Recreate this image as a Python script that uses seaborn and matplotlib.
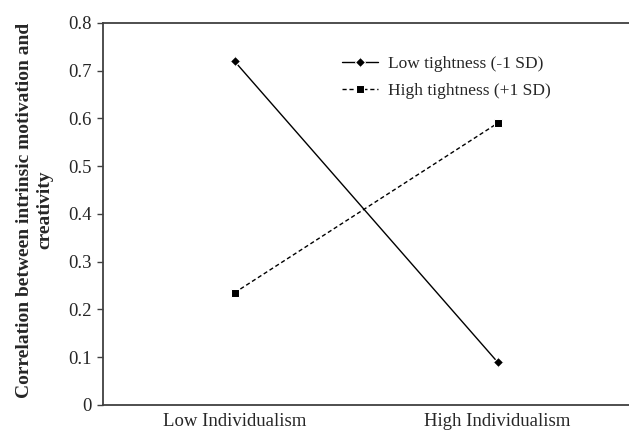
import numpy as np
import pandas as pd
import matplotlib
matplotlib.use("Agg")
import matplotlib.pyplot as plt
import seaborn as sns

# ===== data =====
categories = ["Low Individualism", "High Individualism"]
low_tightness = [0.72, 0.09]
high_tightness = [0.235, 0.59]
series_names = ["Low tightness (-1 SD)", "High tightness (+1 SD)"]
y_ticks = [0, 0.1, 0.2, 0.3, 0.4, 0.5, 0.6, 0.7, 0.8]
y_tick_labels = ["0", "0.1", "0.2", "0.3", "0.4", "0.5", "0.6", "0.7", "0.8"]

df = pd.DataFrame({
    "group": categories * 2,
    "corr": low_tightness + high_tightness,
    "tightness": [series_names[0]] * 2 + [series_names[1]] * 2,
})

sns.set_style("white")
plt.rcParams["font.family"] = ["Liberation Serif", "DejaVu Serif"]

fig = plt.figure(figsize=(6.29, 4.33), dpi=100)
ax = fig.add_axes([0.1638, 0.0647, 0.8362, 0.8822])

sns.lineplot(
    data=df, x="group", y="corr",
    hue="tightness", style="tightness",
    palette={series_names[0]: "black", series_names[1]: "black"},
    markers={series_names[0]: "D", series_names[1]: "s"},
    dashes={series_names[0]: "", series_names[1]: (3, 2)},
    markersize=6, linewidth=1.0,
    ax=ax,
)
# diamond a bit smaller than square
for line in ax.lines:
    if line.get_marker() == "D":
        line.set_markersize(4.8)

ax.set_xlim(-0.5, 1.5)
ax.set_ylim(0, 0.8)
ax.set_yticks(y_ticks)
ax.set_yticklabels(y_tick_labels)
ax.set_xlabel("")
ax.set_ylabel("Correlation between intrinsic motivation and\ncreativity",
              fontsize=14, fontweight="bold", linespacing=1.2)
ax.yaxis.set_label_coords(-0.095, 0.51)

ax.tick_params(axis="y", which="both", left=True, length=4.5, width=1,
               color="#404040", labelsize=13.5, pad=3.5)
ax.tick_params(axis="x", bottom=False, length=0, labelsize=13.5, pad=5.5)

for side in ["left", "bottom", "top"]:
    ax.spines[side].set_visible(True)
    ax.spines[side].set_color("#404040")
    ax.spines[side].set_linewidth(1.3)
ax.spines["right"].set_visible(False)

leg = ax.legend(loc="upper left", bbox_to_anchor=(0.454, 0.915), frameon=False,
                fontsize=12.5, handlelength=2.1, handletextpad=0.55,
                labelspacing=0.65, borderpad=0, borderaxespad=0)
for h in leg.legend_handles:
    h.set_color("black")

fig.savefig("out.png", dpi=100)
